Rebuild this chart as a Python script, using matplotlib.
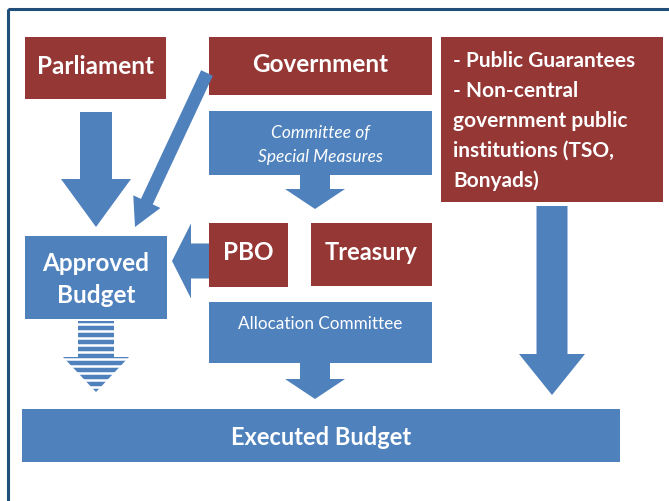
import matplotlib.pyplot as plt
from matplotlib.patches import Rectangle, FancyArrow

RED = "#953735"
BLUE = "#4f81bd"
FONT = "Lato"

# box labels
red_labels = ["Parliament", "Government", "PBO", "Treasury"]
blue_labels = ["Approved\nBudget", "Executed Budget"]
committee_labels = ["Committee of\nSpecial Measures", "Allocation Committee"]
side_lines = ["- Public Guarantees", "- Non-central", "government public",
              "institutions (TSO,", "Bonyads)"]

# layout (pixel space, y down): x0, y0, x1, y1
red_boxes = [(25, 38, 166, 100), (209, 38, 432, 96), (209, 224, 288, 288), (311, 224, 432, 287)]
red_sizes = [17.5, 17.5, 17.5, 17]
blue_boxes = [(25, 237, 167, 320), (22, 410, 620, 463)]
blue_sizes = [17.5, 17]
committee_boxes = [(209, 112, 432, 176), (209, 303, 432, 364)]
side_box = (441, 38, 663, 203)

fig = plt.figure(figsize=(6.69, 5.02), dpi=100)
ax = fig.add_axes([0, 0, 1, 1])
ax.set_xlim(0, 669)
ax.set_ylim(502, 0)
ax.axis("off")

# outer frame
ax.add_patch(Rectangle((8, 10), 700, 520, fill=False, ec="#1f4e79", lw=2.2))


def box(b, color):
    x0, y0, x1, y1 = b
    ax.add_patch(Rectangle((x0, y0), x1 - x0, y1 - y0, fc=color, ec="none"))
    return (x0 + x1) / 2, (y0 + y1) / 2


def arrow(x, y, dx, dy, w, hw, hl):
    ax.add_patch(FancyArrow(x, y, dx, dy, width=w, head_width=hw, head_length=hl,
                            length_includes_head=True, fc=BLUE, ec="none"))


for b, lab, s in zip(red_boxes, red_labels, red_sizes):
    cx, cy = box(b, RED)
    ax.text(cx, cy - 3, lab, color="white", fontsize=s, fontweight="bold",
            family=FONT, ha="center", va="center")

for b, lab, s in zip(blue_boxes, blue_labels, blue_sizes):
    cx, cy = box(b, BLUE)
    ax.text(cx, cy + 1, lab, color="white", fontsize=s, fontweight="bold",
            family=FONT, ha="center", va="center", linespacing=1.45)

cx, cy = box(committee_boxes[0], BLUE)
ax.text(cx, cy + 1, committee_labels[0], color="white", fontsize=12.5, style="italic",
        family=FONT, ha="center", va="center", linespacing=1.55)
cx, cy = box(committee_boxes[1], BLUE)
ax.text(cx, 324, committee_labels[1], color="white", fontsize=12.3,
        family=FONT, ha="center", va="center")

box(side_box, RED)
for i, line in enumerate(side_lines):
    ax.text(453, 61 + i * 30, line, color="white", fontsize=15, fontweight="bold",
            family=FONT, ha="left", va="center")

# arrows
arrow(96, 113, 0, 115, 32, 70, 48)            # Parliament -> Approved
arrow(207, 74, -72, 154, 13, 30, 28)          # Government -> Approved
arrow(315, 176, 0, 34, 30, 60, 20)            # Committee -> PBO/Treasury
arrow(209, 262, -37, 0, 35, 75, 19)           # PBO -> Approved
arrow(315, 364, 0, 36, 30, 60, 20)            # Allocation -> Executed
arrow(552, 207, 0, 189, 31, 66, 41)           # side -> Executed

# striped arrow below Approved Budget
arrow(96, 322, 0, 71, 36, 66, 35)
for y in range(325, 395, 7):
    ax.plot([55, 140], [y, y], color="white", lw=1.8, solid_capstyle="butt")

fig.savefig("out.png", dpi=100)
